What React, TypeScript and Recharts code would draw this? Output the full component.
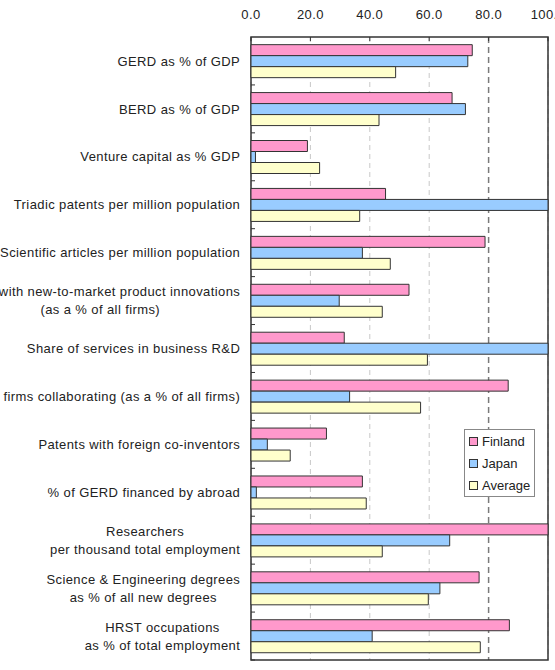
import { BarChart, Bar, XAxis, YAxis, CartesianGrid, Legend, ReferenceArea } from 'recharts'

const CATEGORIES = [
  'GERD as % of GDP',
  'BERD as % of GDP',
  'Venture capital as % GDP',
  'Triadic patents per million population',
  'Scientific articles per million population',
  'Firms with new-to-market product innovations\n(as a % of all firms)',
  'Share of services in business R&D',
  'Innovative firms collaborating (as a % of all firms)',
  'Patents with foreign co-inventors',
  '% of GERD financed by abroad',
  'Researchers\nper thousand total employment',
  'Science & Engineering degrees\nas % of all new degrees',
  'HRST occupations\nas % of total employment',
]

const FINLAND = [74.5, 67.7, 19.0, 45.3, 78.8, 53.2, 31.4, 86.6, 25.4, 37.5, 100, 76.8, 87.0]
const JAPAN = [73.0, 72.2, 1.5, 100, 37.5, 29.7, 100, 33.2, 5.5, 1.8, 66.9, 63.6, 40.8]
const AVERAGE = [48.7, 43.1, 23.1, 36.6, 46.9, 44.2, 59.4, 57.1, 13.2, 38.8, 44.2, 59.7, 77.2]

const SERIES_ORDER = ['Finland', 'Japan', 'Average']
const X_TICKS = [0, 20, 40, 60, 80, 100]

const data = CATEGORIES.map((category, i) => ({
  category,
  finland: FINLAND[i],
  japan: JAPAN[i],
  average: AVERAGE[i],
}))

const WIDTH = 555
const HEIGHT = 670
const MARGIN = { top: 0, right: 7, bottom: 10, left: 0 }
const X_AXIS_HEIGHT = 37
const Y_AXIS_WIDTH = 251
const PLOT_LEFT = MARGIN.left + Y_AXIS_WIDTH
const PLOT_TOP = MARGIN.top + X_AXIS_HEIGHT
const BAND = (HEIGHT - MARGIN.bottom - PLOT_TOP) / CATEGORIES.length

const FONT = '"Liberation Sans", Arial, sans-serif'
const TEXT = '#222'
const SPACING = 0.4

let ctx: CanvasRenderingContext2D | null = null
function textWidth(s: string) {
  if (!ctx) ctx = document.createElement('canvas').getContext('2d')
  if (!ctx) return s.length * 7
  ctx.font = `13px ${FONT}`
  return ctx.measureText(s).width + SPACING * (s.length - 1)
}

const CategoryTick = ({ x, y, payload }: any) => {
  const lines = String(payload.value).split('\n')
  const w = Math.max(...lines.map(textWidth))
  const cx = x - w / 2
  const lh = 18
  const y0 = y - ((lines.length - 1) * lh) / 2
  const by = y + BAND / 2
  return (
    <g>
      <text
        x={cx}
        textAnchor="middle"
        fontSize={13}
        fontFamily={FONT}
        letterSpacing={SPACING}
        fill={TEXT}
      >
        {lines.map((l, i) => (
          <tspan key={i} x={cx} y={y0 + i * lh} dy="0.36em">{l}</tspan>
        ))}
      </text>
      <line x1={PLOT_LEFT} x2={PLOT_LEFT + 4} y1={by} y2={by} stroke="#333" />
    </g>
  )
}

const ValueTick = ({ x, y, payload }: any) => (
  <g>
    <text
      x={x}
      y={y}
      textAnchor="middle"
      fontSize={13}
      fontFamily={FONT}
      letterSpacing={SPACING}
      fill={TEXT}
    >
      {Number(payload.value).toFixed(1)}
    </text>
    <line x1={x} x2={x} y1={PLOT_TOP} y2={PLOT_TOP + 4} stroke="#333" />
  </g>
)

const gridLine = (p: any) => {
  const strong = p.index === 4
  return (
    <line
      key={p.key}
      x1={p.x1}
      x2={p.x2}
      y1={p.y1}
      y2={p.y2}
      stroke={strong ? '#7a7a7a' : '#c8c8c8'}
      strokeWidth={strong ? 1.5 : 1}
      strokeDasharray={strong ? '6 4' : '5 4'}
    />
  )
}

const LegendBox = ({ payload }: any) => {
  const items = [...(payload ?? [])].sort(
    (a: any, b: any) => SERIES_ORDER.indexOf(a.value) - SERIES_ORDER.indexOf(b.value),
  )
  return (
    <div
      style={{
        width: 71,
        boxSizing: 'border-box',
        border: '1px solid #888',
        background: '#fff',
        padding: '0 0 0 4px',
        fontFamily: FONT,
        fontSize: 13,
        color: TEXT,
      }}
    >
      {items.map((p: any) => (
        <div key={p.value} style={{ display: 'flex', alignItems: 'center', height: 22 }}>
          <span
            style={{
              width: 7,
              height: 7,
              background: p.color,
              border: '1px solid #333',
              marginRight: 4,
            }}
          />
          {p.value}
        </div>
      ))}
    </div>
  )
}

export default function App() {
  return (
    <div style={{ position: 'absolute', left: 0, top: 0 }}>
      <BarChart
        width={WIDTH}
        height={HEIGHT}
        data={data}
        layout="vertical"
        margin={MARGIN}
        barGap={0}
        barCategoryGap="16%"
      >
        <CartesianGrid horizontal={false} vertical={gridLine} />
        <XAxis
          type="number"
          orientation="top"
          domain={[0, 100]}
          ticks={X_TICKS}
          height={X_AXIS_HEIGHT}
          tickSize={0}
          tickMargin={18}
          tickLine={false}
          axisLine={false}
          tick={<ValueTick />}
          interval={0}
        />
        <YAxis
          type="category"
          dataKey="category"
          width={Y_AXIS_WIDTH}
          tickSize={0}
          tickMargin={11}
          tickLine={false}
          axisLine={false}
          tick={<CategoryTick />}
          interval={0}
        />
        <Bar dataKey="finland" name="Finland" fill="#ff99cc" stroke="#333" isAnimationActive={false} />
        <Bar dataKey="japan" name="Japan" fill="#99ccff" stroke="#333" isAnimationActive={false} />
        <Bar dataKey="average" name="Average" fill="#ffffcc" stroke="#333" isAnimationActive={false} />
        <ReferenceArea x1={0} x2={100} fill="none" stroke="#333" strokeWidth={1.5} />
        <Legend
          layout="vertical"
          align="center"
          verticalAlign="middle"
          content={<LegendBox />}
          wrapperStyle={{ position: 'absolute', left: 464, top: 429, width: 71 }}
        />
      </BarChart>
    </div>
  )
}
